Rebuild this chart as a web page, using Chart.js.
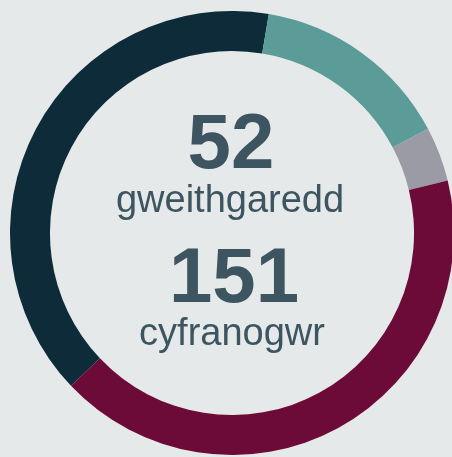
<!DOCTYPE html>
<html>
<head>
<meta charset="utf-8">
<script src="https://cdn.jsdelivr.net/npm/chart.js@4"></script>
<style>
  html, body { margin: 0; padding: 0; background: #e6e9ea; overflow: hidden; }
  #wrap { position: absolute; left: 10px; top: 11px; width: 444px; height: 444px; }
</style>
</head>
<body>
<div id="wrap"><canvas id="myDonut"></canvas></div>
<script>
// data
const categories = ['Categori 1', 'Categori 2', 'Categori 3', 'Categori 4'];
const values = [60, 22, 6, 63];
const colours = ['#0e2b39', '#5c9c98', '#9b9ba6', '#6c0b37'];
const totalActivities = '52';
const totalParticipants = '151';
const labelActivities = 'gweithgaredd';
const labelParticipants = 'cyfranogwr';

// testun yn y canol
const centreText = {
  id: 'centreText',
  afterDraw(chart) {
    const ctx = chart.ctx;
    const x = (chart.chartArea.left + chart.chartArea.right) / 2;
    const top = chart.chartArea.top;
    ctx.save();
    ctx.fillStyle = '#3d5561';
    ctx.textAlign = 'center';
    ctx.textBaseline = 'alphabetic';
    ctx.font = 'bold 78px "Liberation Sans", Arial, sans-serif';
    ctx.fillText(totalActivities, x - 1, top + 157);
    ctx.fillText(totalParticipants, x + 2, top + 291);
    ctx.font = '38px "Liberation Sans", Arial, sans-serif';
    ctx.fillText(labelActivities, x - 2, top + 201);
    ctx.fillText(labelParticipants, x, top + 334);
    ctx.restore();
  }
};

const ctx_donut = document.getElementById('myDonut').getContext('2d');
const myChart_donut = new Chart(ctx_donut, {
  type: 'doughnut',
  data: {
    labels: categories,
    datasets: [{
      data: values,
      backgroundColor: colours,
      borderWidth: 0
    }]
  },
  options: {
    responsive: true,
    maintainAspectRatio: false,
    animation: false,
    cutout: '82%',
    rotation: 226.5,
    layout: { padding: 0 },
    plugins: {
      legend: { display: false },
      tooltip: { enabled: false }
    }
  },
  plugins: [centreText]
});
</script>
</body>
</html>
